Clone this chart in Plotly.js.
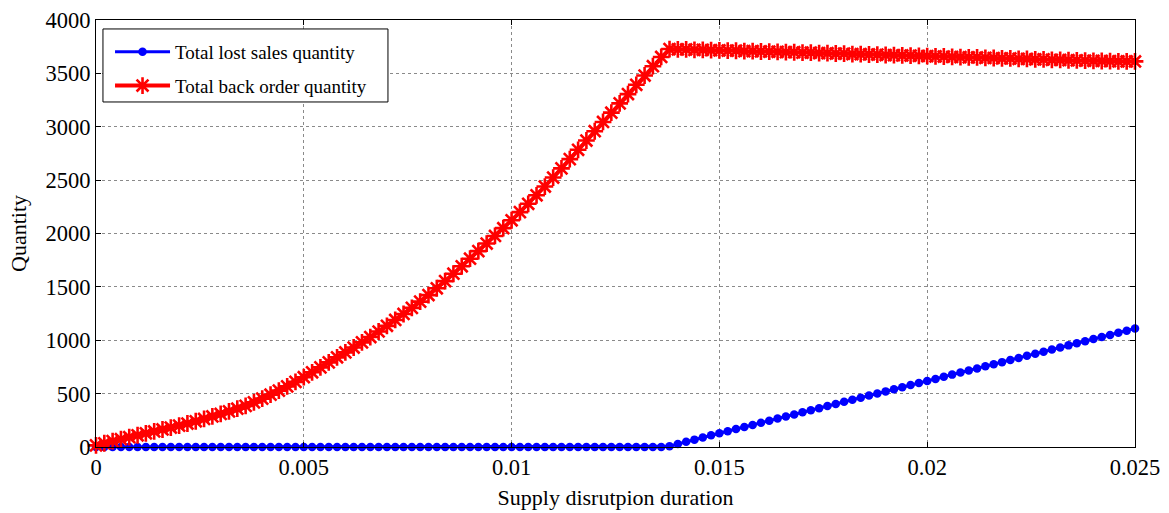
<!DOCTYPE html>
<html>
<head>
<meta charset="utf-8">
<script src="https://cdn.plot.ly/plotly-3.0.1.min.js"></script>
<style>
  html, body { margin: 0; padding: 0; background: #ffffff; }
  #chart { width: 1169px; height: 513px; }
</style>
</head>
<body>
<div id="chart"></div>
<script>
// Supply disruption duration (simulation sample points)
const duration = [
  0.0000, 0.0002, 0.0004, 0.0006, 0.0008, 0.0010, 0.0012, 0.0014, 0.0016, 0.0018,
  0.0020, 0.0022, 0.0024, 0.0026, 0.0028, 0.0030, 0.0032, 0.0034, 0.0036, 0.0038,
  0.0040, 0.0042, 0.0044, 0.0046, 0.0048, 0.0050, 0.0052, 0.0054, 0.0056, 0.0058,
  0.0060, 0.0062, 0.0064, 0.0066, 0.0068, 0.0070, 0.0072, 0.0074, 0.0076, 0.0078,
  0.0080, 0.0082, 0.0084, 0.0086, 0.0088, 0.0090, 0.0092, 0.0094, 0.0096, 0.0098,
  0.0100, 0.0102, 0.0104, 0.0106, 0.0108, 0.0110, 0.0112, 0.0114, 0.0116, 0.0118,
  0.0120, 0.0122, 0.0124, 0.0126, 0.0128, 0.0130, 0.0132, 0.0134, 0.0136, 0.0138,
  0.0140, 0.0142, 0.0144, 0.0146, 0.0148, 0.0150, 0.0152, 0.0154, 0.0156, 0.0158,
  0.0160, 0.0162, 0.0164, 0.0166, 0.0168, 0.0170, 0.0172, 0.0174, 0.0176, 0.0178,
  0.0180, 0.0182, 0.0184, 0.0186, 0.0188, 0.0190, 0.0192, 0.0194, 0.0196, 0.0198,
  0.0200, 0.0202, 0.0204, 0.0206, 0.0208, 0.0210, 0.0212, 0.0214, 0.0216, 0.0218,
  0.0220, 0.0222, 0.0224, 0.0226, 0.0228, 0.0230, 0.0232, 0.0234, 0.0236, 0.0238,
  0.0240, 0.0242, 0.0244, 0.0246, 0.0248, 0.0250
];

// Total lost sales quantity
const lostSales = [
  0, 0, 0, 0, 0, 0, 0, 0, 0, 0,
  0, 0, 0, 0, 0, 0, 0, 0, 0, 0,
  0, 0, 0, 0, 0, 0, 0, 0, 0, 0,
  0, 0, 0, 0, 0, 0, 0, 0, 0, 0,
  0, 0, 0, 0, 0, 0, 0, 0, 0, 0,
  0, 0, 0, 0, 0, 0, 0, 0, 0, 0,
  0, 0, 0, 0, 0, 0, 0, 0, 0, 6,
  28, 49, 69, 89, 109, 129, 148, 168, 188, 207,
  227, 246, 266, 286, 305, 325, 344, 364, 384, 403,
  423, 442, 462, 482, 501, 521, 540, 560, 580, 599,
  619, 638, 658, 678, 697, 717, 736, 756, 776, 795,
  815, 834, 854, 874, 893, 913, 932, 952, 972, 991,
  1011, 1030, 1050, 1070, 1089, 1110
];

// Total back order quantity
const backOrder = [
  15, 35, 55, 73, 92, 110, 128, 146, 164, 182,
  200, 220, 241, 263, 286, 310, 334, 359, 385, 418,
  453, 490, 528, 568, 610, 654, 700, 746, 793, 840,
  886, 932, 980, 1030, 1082, 1135, 1190, 1246, 1303, 1362,
  1423, 1487, 1554, 1623, 1693, 1764, 1835, 1906, 1977, 2050,
  2124, 2200, 2278, 2358, 2440, 2524, 2610, 2697, 2784, 2871,
  2958, 3045, 3132, 3219, 3306, 3393, 3480, 3567, 3654, 3728,
  3725, 3724, 3720, 3721, 3717, 3716, 3713, 3712, 3708, 3709,
  3705, 3703, 3702, 3699, 3698, 3694, 3694, 3690, 3689, 3686,
  3685, 3681, 3680, 3677, 3676, 3672, 3671, 3668, 3667, 3663,
  3662, 3659, 3658, 3654, 3653, 3650, 3649, 3645, 3644, 3641,
  3640, 3636, 3635, 3632, 3631, 3627, 3626, 3623, 3622, 3619,
  3618, 3616, 3615, 3613, 3612, 3612
];

const seriesNames = ['Total lost sales quantity', 'Total back order quantity'];
const xTitle = 'Supply disrutpion duration';
const yTitle = 'Quantity';

const FONT = '"Liberation Serif", "Times New Roman", Times, serif';

const traces = [
  {
    x: duration, y: lostSales, name: seriesNames[0],
    type: 'scatter', mode: 'lines+markers', legendgroup: 'a',
    line: { color: '#0000ff', width: 3 },
    marker: { color: '#0000ff', size: 8.5, symbol: 'circle' },
    cliponaxis: false
  },
  {
    x: duration, y: backOrder, name: seriesNames[1],
    type: 'scatter', mode: 'lines+markers', legendgroup: 'b',
    line: { color: '#ff0000', width: 4 },
    marker: { color: '#ff0000', size: 14, symbol: 'asterisk-open',
              line: { color: '#ff0000', width: 2.6 } },
    cliponaxis: false
  }
];

const axisCommon = {
  showline: true, linecolor: '#000000', linewidth: 1,
  mirror: 'ticks', ticks: 'inside', ticklen: 5, tickcolor: '#000000', tickwidth: 1,
  showgrid: true, gridcolor: '#8a8a8a', gridwidth: 1, griddash: 'dot',
  zeroline: false,
  tickfont: { family: FONT, size: 22.5, color: '#000000' }
};

const layout = {
  width: 1169, height: 513,
  margin: { l: 96, r: 34, t: 20, b: 66 },
  paper_bgcolor: '#ffffff', plot_bgcolor: '#ffffff',
  font: { family: FONT, color: '#000000' },
  showlegend: true,
  xaxis: Object.assign({}, axisCommon, {
    range: [0, 0.025], dtick: 0.005, tick0: 0,
    title: { text: xTitle, font: { family: FONT, size: 22, color: '#000000' }, standoff: 10 }
  }),
  yaxis: Object.assign({}, axisCommon, {
    range: [0, 4000], dtick: 500, tick0: 0,
    title: { text: yTitle, font: { family: FONT, size: 22, color: '#000000' }, standoff: 12 }
  }),
  // Legend frame: white box with a black border, drawn over the curves
  shapes: [{
    type: 'rect', xref: 'paper', yref: 'paper', layer: 'above',
    x0: 0.0067, x1: 0.281, y0: 0.808, y1: 0.979,
    fillcolor: '#ffffff', line: { color: '#000000', width: 1 }
  }],
  legend: {
    x: 0.0135, y: 0.9696, xanchor: 'left', yanchor: 'top',
    bgcolor: 'rgba(0,0,0,0)', borderwidth: 0,
    font: { family: FONT, size: 19, color: '#000000' },
    traceorder: 'grouped', tracegroupgap: 6,
    itemwidth: 55
  }
};

Plotly.newPlot('chart', traces, layout, { displayModeBar: false, staticPlot: true });
</script>
</body>
</html>
